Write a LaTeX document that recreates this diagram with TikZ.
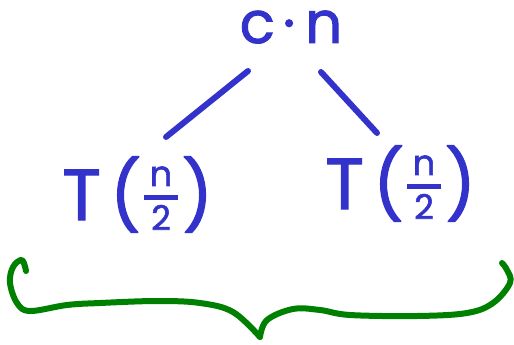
\documentclass[tikz,border=0pt]{standalone}
\usepackage{fontspec}
\setmainfont{Poppins}[FakeBold=1.6]
\definecolor{ink}{RGB}{51,51,204}
\definecolor{penGreen}{RGB}{0,128,0}
\newcommand\hfrac[2]{\raisebox{-10pt}{\vbox{\offinterlineskip\hbox to 34pt{\hss#1\hss}\kern9pt\hbox{\color{ink}\rule{34pt}{5pt}}\kern5pt\hbox to 34pt{\hss#2\hss}}}}
\newcommand\bigpar[1]{{\fontsize{68}{68}\selectfont #1}}
\newcommand\Tfrac{\fontsize{72}{72}\selectfont T\kern9pt\bigpar{(}\kern3pt\hfrac{\fontsize{35}{35}\selectfont n}{\fontsize{34}{34}\selectfont 2}\kern4pt\bigpar{)}}
\tikzset{
  pen/.style={draw=ink, line width=6pt, line cap=round, line join=round},
  brace/.style={draw=penGreen, line width=6pt, line cap=round, line join=round},
  handtext/.style={text=ink, inner sep=0pt}
}
\begin{document}
\begin{tikzpicture}[x=1pt,y=-1pt]
\useasboundingbox (0,0) rectangle (514,345);
\node[handtext, anchor=base] (cn) at (291,43) {\fontsize{58}{58}\selectfont c\kern8pt·\kern10pt n};
\node[handtext, anchor=base west] (tl) at (62,220) {\Tfrac};
\node[handtext, anchor=base west] (tr) at (325,209) {\Tfrac};
\coordinate (la1) at (248,71);
\coordinate (la2) at (166,137);
\coordinate (lb1) at (321,72);
\coordinate (lb2) at (377,133);
\draw[pen] (la1) -- (la2);
\draw[pen] (lb1) -- (lb2);
\draw[brace] plot[smooth, tension=0.6] coordinates {(26,271) (22,260) (13,267) (10,283) (17,303) (30,311) (67,305) (100,303) (157,301) (200,303) (233,312) (260,337)};
\draw[brace] plot[smooth, tension=0.6] coordinates {(260,337) (267,320) (293,309) (320,310) (350,315) (417,316) (467,313) (493,303) (510,283) (507,270) (502,263)};
\end{tikzpicture}
\end{document}
